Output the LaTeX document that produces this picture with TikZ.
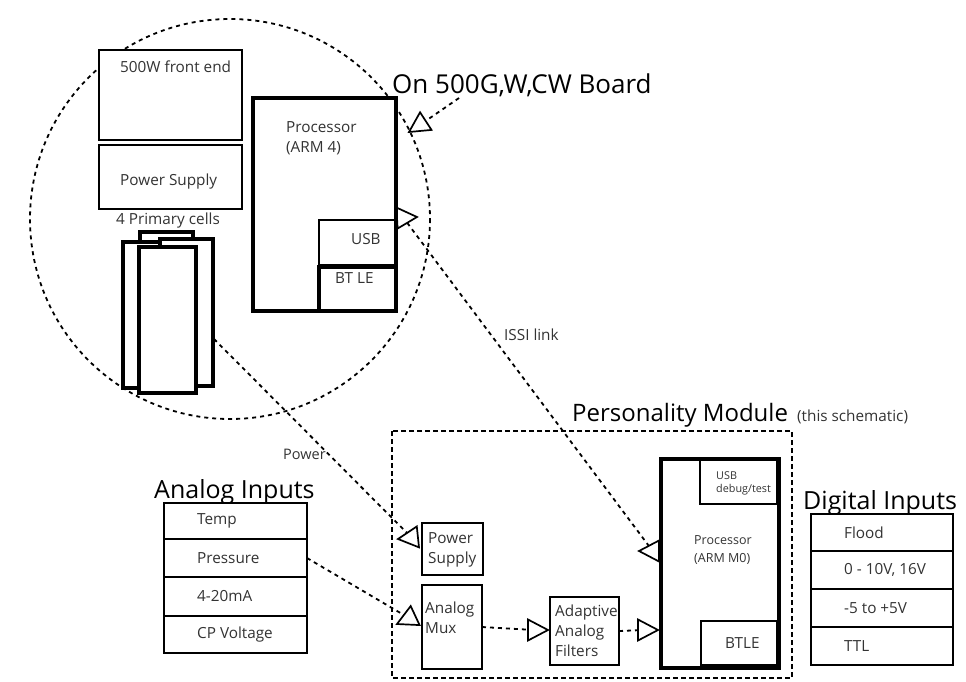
\documentclass[tikz,border=0pt]{standalone}
\usepackage{fontspec}
\setmainfont{Open Sans}
\usetikzlibrary{shapes.geometric}

\tikzset{
  box/.style={draw,fill=white,line width=1.7pt,anchor=north west,inner sep=0pt,outer sep=0pt},
  thickbox/.style={box,line width=4.5pt},
  cell/.style={box,line width=4pt},
  link/.style={line width=1.8pt,dash pattern=on 4pt off 4pt},
  opentip/.style={draw,isosceles triangle,isosceles triangle apex angle=56,isosceles triangle stretches,
    minimum width=21pt,minimum height=20pt,inner sep=0pt,outer sep=0pt,line width=1.7pt,anchor=apex},
  lbl/.style={anchor=west,inner sep=0pt,text=black!80,align=left,font=\fontsize{15.3}{20}\selectfont},
  bigtitle/.style={anchor=base west,inner sep=0pt,font=\fontsize{25}{28}\selectfont},
}

\begin{document}
\begin{tikzpicture}[x=1pt,y=-1pt]
\useasboundingbox (0,0) rectangle (966,681);

\draw [link] (230,219) circle (200);
\draw [line width=2pt,dash pattern=on 5pt off 3pt] (392,431) rectangle (792,678);

% main board
\node [box,minimum width=143,minimum height=90] (frontend) at (99,50) {};
\node [box,minimum width=143,minimum height=64] (mainsupply) at (99,145) {};
\node [thickbox,line width=4pt,minimum width=143,minimum height=213] (mainproc) at (253,98) {};
\node [box,minimum width=76,minimum height=45] (mainusb) at (319,220) {};
\node [cell,minimum width=77,minimum height=44] (mainbt) at (319,267) {};

\node [cell,minimum width=53,minimum height=11] (cellnub) at (140,232) {};
\node [cell,minimum width=53,minimum height=146] (cellleft) at (123,242) {};
\node [cell,minimum width=53,minimum height=147] (cellright) at (160,239) {};
\node [cell,minimum width=57,minimum height=146] (cellfront) at (139,247) {};

\node [lbl] (frontendtext) at (120,67) {500W front end};
\node [lbl] (mainsupplytext) at (120,182) {Power Supply};
\node [lbl] (cellstext) at (116,221) {4 Primary cells};
\node [lbl] (mainproctext) at (286,138) {Processor\\(ARM 4)};
\node [lbl] (mainusbtext) at (351,239) {USB};
\node [lbl] (mainbttext) at (335,278) {BT LE};

% personality module
\node [box,minimum width=61,minimum height=52] (supply) at (422,523) {};
\node [box,minimum width=60,minimum height=84] (mux) at (422,585) {};
\node [box,minimum width=69,minimum height=68] (filters) at (550,597) {};
\node [thickbox,minimum width=118,minimum height=209] (proc) at (661,459) {};
\node [box,minimum width=77,minimum height=44] (usb) at (700,460) {};
\node [box,minimum width=76,minimum height=44] (btle) at (701,621) {};

\node [lbl] (supplytext) at (428,550) {Power\\Supply};
\node [lbl] (muxtext) at (425,618) {Analog\\Mux};
\node [lbl] (filterstext) at (555,631) {Adaptive\\Analog\\Filters};
\node [lbl,font=\fontsize{12.5}{18}\selectfont] (proctext) at (694,550) {Processor\\(ARM M0)};
\node [lbl,font=\fontsize{10.8}{13}\selectfont] (usbtext) at (716,483) {USB\\debug/test};
\node [lbl] (btletext) at (725,643) {BTLE};

% input tables
\foreach \n/\ya/\yb/\t in {1/503/36/Temp,2/539/38/Pressure,3/577/39/4-20mA,4/616/37/CP Voltage} {%
	\node [box,minimum width=143,minimum height=\yb] (analog\n) at (164,\ya) {};
	\node [lbl] (analogtext\n) at (197,\ya+\yb/2) {\t};
}
\foreach \n/\ya/\yb/\t in {1/514/37/Flood,2/551/38/{0 - 10V, 16V},3/589/38/-5 to +5V,4/627/38/TTL} {%
	\node [box,minimum width=142,minimum height=\yb] (digital\n) at (811,\ya) {};
	\node [lbl] (digitaltext\n) at (844,\ya+\yb/2) {\t};
}

% titles
\node [bigtitle,font=\fontsize{26}{28}\selectfont] (boardtitle) at (392,93) {On 500G,W,CW Board};
\node [bigtitle,font=\fontsize{24}{28}\selectfont] (moduletitle) at (572,421) {Personality Module};
\node [lbl] (schematic) at (797,417) {(this schematic)};
\node [bigtitle] (analogtitle) at (154,498) {Analog Inputs};
\node [bigtitle] (digitaltitle) at (803,509) {Digital Inputs};
\node [lbl] (issitext) at (504,335) {ISSI link};
\node [lbl,font=\fontsize{14.5}{20}\selectfont] (powertext) at (283,454) {Power};

% triangles
\node [opentip,rotate=213] (tipboard) at (409,132) {};
\node [opentip,rotate=3] (tipusb) at (417,217) {};
\node [opentip,rotate=180] (tipproc) at (639,551) {};
\node [opentip,rotate=186] (tipsupply) at (398,539) {};
\node [opentip,rotate=205] (tipmux) at (397,624) {};
\node [opentip] (tipfilters) at (548,630) {};
\node [opentip] (tipinput) at (658,630) {};

\coordinate (boardend) at (459,98);
\coordinate (cellsend) at (214,339);

\draw [link] (boardend) -- (tipboard);
\draw [link] (tipusb) -- (tipproc);
\draw [link] (cellsend) -- (tipsupply);
\draw [link] (analog2.east) -- (tipmux);
\draw [link] (mux.east) -- (tipfilters);
\draw [link] (filters.east) -- (tipinput);

\end{tikzpicture}
\end{document}
